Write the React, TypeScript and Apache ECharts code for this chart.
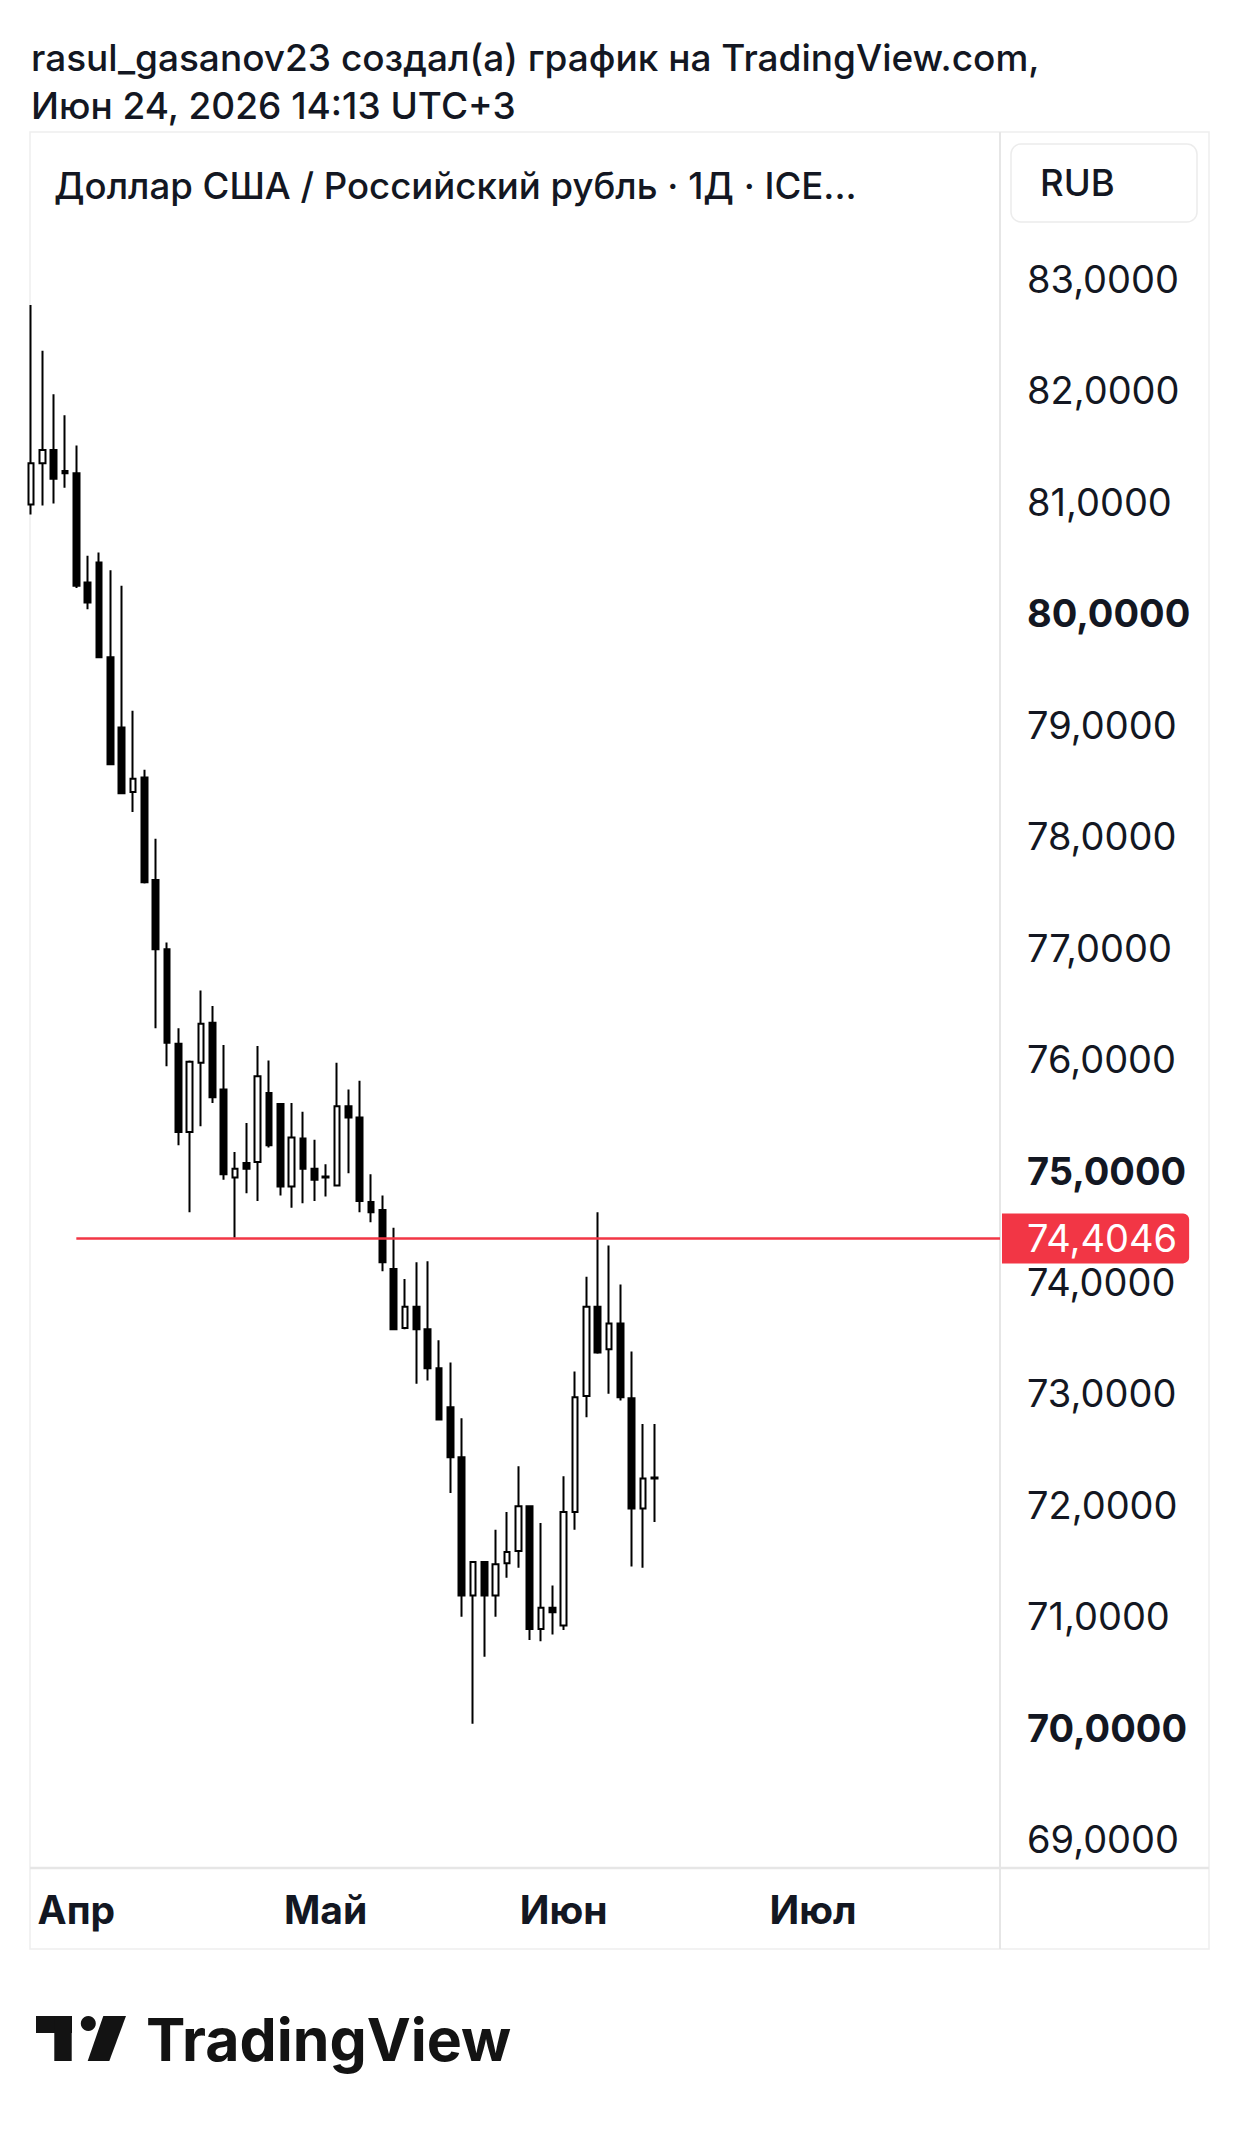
import React, { useEffect, useRef } from 'react';
import * as echarts from 'echarts';

// ---- data ----
const opens = [
  80.99, 81.36, 81.48, 81.29, 81.27, 80.29, 80.47, 79.62, 78.99, 78.41,
  78.54, 77.62, 77.0, 76.15, 75.36, 75.98, 76.34, 75.74, 74.95, 75.08,
  75.09, 75.71, 75.61, 74.87, 75.3, 75.03, 74.96, 74.88, 75.59, 75.49,
  74.73, 74.66, 74.13, 73.6, 73.79, 73.59, 73.24, 72.89, 72.44, 71.2,
  71.5, 71.2, 71.49, 71.6, 72.0, 70.9, 71.09, 70.93, 71.95, 72.99,
  73.79, 73.41, 73.64, 72.97, 71.98, 72.26,
];
const closes = [
  81.36, 81.48, 81.22, 81.27, 80.26, 80.11, 79.62, 78.66, 78.4, 78.53,
  77.6, 77.0, 76.16, 75.36, 75.99, 76.33, 75.67, 74.98, 75.03, 75.03,
  75.86, 75.24, 74.87, 75.31, 75.03, 74.93, 74.95, 75.59, 75.49, 74.74,
  74.64, 74.19, 73.59, 73.79, 73.59, 73.24, 72.78, 72.44, 71.2, 71.5,
  71.2, 71.48, 71.59, 72.0, 70.9, 71.09, 71.05, 71.95, 72.98, 73.79,
  73.38, 73.64, 72.98, 71.98, 72.25, 72.25,
];
const lows = [
  80.9, 80.98, 81.0, 81.14, 80.24, 80.05, 79.61, 78.65, 78.39, 78.23,
  77.59, 76.29, 75.95, 75.24, 74.64, 75.41, 75.62, 74.93, 74.41, 74.81,
  74.74, 75.22, 74.79, 74.68, 74.72, 74.74, 74.78, 74.87, 74.99, 74.64,
  74.55, 74.11, 73.58, 73.59, 73.1, 73.13, 72.77, 72.12, 71.01, 70.05,
  70.65, 71.01, 71.36, 71.45, 70.8, 70.79, 70.85, 70.89, 71.79, 72.8,
  73.37, 73.01, 72.95, 71.46, 71.45, 71.86,
];
const highs = [
  82.78, 82.37, 81.98, 81.79, 81.52, 80.53, 80.56, 80.4, 80.26, 79.14,
  78.61, 77.99, 77.06, 76.29, 76.0, 76.63, 76.49, 76.14, 75.18, 75.44,
  76.13, 76.0, 75.62, 75.62, 75.54, 75.29, 75.07, 75.98, 75.74, 75.82,
  74.98, 74.79, 74.5, 74.04, 74.19, 74.2, 73.49, 73.29, 72.79, 71.51,
  71.51, 71.79, 71.95, 72.36, 72.01, 71.85, 71.29, 72.27, 73.21, 74.06,
  74.64, 74.34, 73.99, 73.39, 72.74, 72.74,
];
const priceTicks = [69, 70, 71, 72, 73, 74, 75, 76, 77, 78, 79, 80, 81, 82, 83];
const boldTicks = [70, 75, 80];
const lastPrice = 74.4046;
const lineStartIndex = 4;
const firstDate = '2026-03-26';
const futureBars = 30;
const monthNames = ['Янв', 'Фев', 'Мар', 'Апр', 'Май', 'Июн', 'Июл', 'Авг', 'Сен', 'Окт', 'Ноя', 'Дек'];
const headerLine1 = 'rasul_gasanov23 создал(а) график на TradingView.com,';
const headerLine2 = 'Июн 24, 2026 14:13 UTC+3';
const titleText = 'Доллар США / Российский рубль · 1Д · ICE...';
const currencyText = 'RUB';
const brandText = 'TradingView';

function tradingDays(start: string, count: number): string[] {
  const out: string[] = [];
  const d = new Date(start + 'T00:00:00Z');
  while (out.length < count) {
    const wd = d.getUTCDay();
    if (wd !== 0 && wd !== 6) out.push(d.toISOString().slice(0, 10));
    d.setUTCDate(d.getUTCDate() + 1);
  }
  return out;
}

const FONT = 'Inter, "Noto Sans", sans-serif';
const TEXT = '#131722';
const FRAME = '#e6e6e6';
const RED = '#f23645';

export default function App() {
  const ref = useRef<HTMLDivElement>(null);
  useEffect(() => {
    if (!ref.current) return;
    const chart = echarts.init(ref.current, null, { renderer: 'svg' });

    const dates = tradingDays(firstDate, opens.length + futureBars);
    const monthLabel: Record<number, string> = {};
    dates.forEach((d, i) => {
      if (i > 0 && d.slice(5, 7) !== dates[i - 1].slice(5, 7)) {
        monthLabel[i] = monthNames[parseInt(d.slice(5, 7), 10) - 1];
      }
    });
    const candles = opens.map((o, i) => [o, closes[i], lows[i], highs[i]]);

    const gridLeft = 25.33;
    const gridRightX = 1000;
    const gridTop = 132;
    const gridBottomY = 1868;
    const yMax = 84.3325;
    const yMin = 68.7548;

    const fmt = (v: number) => v.toFixed(4).replace('.', ',');

    chart.setOption({
      animation: false,
      backgroundColor: '#ffffff',
      grid: {
        left: gridLeft,
        top: gridTop,
        width: gridRightX - gridLeft,
        height: gridBottomY - gridTop,
        containLabel: false,
        outerBoundsMode: 'none',
      },
      xAxis: {
        type: 'category',
        data: dates,
        boundaryGap: true,
        axisLine: { show: false },
        axisTick: { show: false },
        splitLine: { show: false },
        axisLabel: {
          interval: (i: number) => monthLabel[i] !== undefined,
          formatter: (_v: string, i: number) => monthLabel[i] || '',
          fontFamily: FONT,
          fontSize: 39,
          fontWeight: 700,
          color: TEXT,
          margin: 41,
          verticalAlign: 'middle',
          hideOverlap: false,
        },
      },
      yAxis: {
        type: 'value',
        position: 'right',
        min: yMin,
        max: yMax,
        axisLine: { show: false },
        axisTick: { show: false },
        splitLine: { show: false },
        axisLabel: {
          customValues: priceTicks,
          showMinLabel: true,
          showMaxLabel: true,
          align: 'left',
          margin: 27,
          padding: [0, 0, 3, 0],
          fontFamily: FONT,
          fontSize: 38,
          color: TEXT,
          formatter: (v: number) =>
            boldTicks.indexOf(Math.round(v)) >= 0 ? `{b|${fmt(v)}}` : `{n|${fmt(v)}}`,
          rich: {
            n: { fontFamily: FONT, fontSize: 38, fontWeight: 400, color: TEXT },
            b: { fontFamily: FONT, fontSize: 38, fontWeight: 700, color: TEXT },
          },
        },
      },
      series: [
        {
          type: 'candlestick',
          data: candles,
          barWidth: 6.3,
          itemStyle: {
            color: '#ffffff',
            color0: '#000000',
            borderColor: '#000000',
            borderColor0: '#000000',
            borderWidth: 2,
          },
          markLine: {
            silent: true,
            animation: false,
            symbol: ['none', 'none'],
            lineStyle: { color: RED, width: 2.5, type: 'solid' },
            label: {
              show: true,
              position: 'end',
              distance: 2,
              formatter: () => fmt(lastPrice),
              fontFamily: FONT,
              fontSize: 38,
              color: '#ffffff',
              backgroundColor: RED,
              padding: [5, 12, 5, 25],
              lineHeight: 40,
              borderRadius: [0, 6, 6, 0],
            },
            data: [
              [
                { xAxis: lineStartIndex, yAxis: lastPrice },
                { xAxis: dates.length - 1, yAxis: lastPrice, x: gridRightX },
              ],
            ],
          },
        },
      ],
      graphic: [
        // frame
        { type: 'rect', shape: { x: 30, y: 132, width: 1179, height: 1817 }, style: { fill: 'none', stroke: '#eeeeee', lineWidth: 1.5 }, silent: true },
        { type: 'line', shape: { x1: 1000, y1: 132, x2: 1000, y2: 1949 }, style: { stroke: FRAME, lineWidth: 2 }, silent: true },
        { type: 'line', shape: { x1: 30, y1: 1868, x2: 1209, y2: 1868 }, style: { stroke: FRAME, lineWidth: 2.5 }, silent: true },
        // currency box
        { type: 'rect', shape: { x: 1011, y: 144, width: 186, height: 78, r: 10 }, style: { fill: '#ffffff', stroke: '#ececec', lineWidth: 1.5 }, silent: true },
        { type: 'text', x: 1040, y: 183, style: { text: currencyText, fontFamily: FONT, fontSize: 36.5, fontWeight: 500, fill: TEXT, textAlign: 'left', textVerticalAlign: 'middle' }, silent: true },
        // header
        { type: 'text', x: 31, y: 57, style: { text: headerLine1, fontFamily: FONT, fontSize: 37, fontWeight: 500, fill: TEXT, textAlign: 'left', textVerticalAlign: 'middle' }, silent: true },
        { type: 'text', x: 31, y: 105, style: { text: headerLine2, fontFamily: FONT, fontSize: 37, fontWeight: 500, fill: TEXT, textAlign: 'left', textVerticalAlign: 'middle' }, silent: true },
        { type: 'text', x: 54, y: 186, style: { text: titleText, fontFamily: FONT, fontSize: 36.6, fontWeight: 500, fill: TEXT, textAlign: 'left', textVerticalAlign: 'middle' }, silent: true },
        // logo
        { type: 'rect', shape: { x: 36, y: 2016, width: 36, height: 17 }, style: { fill: '#131313' }, silent: true },
        { type: 'rect', shape: { x: 54.3, y: 2016, width: 17.4, height: 45 }, style: { fill: '#131313' }, silent: true },
        { type: 'circle', shape: { cx: 88.3, cy: 2023.5, r: 7.5 }, style: { fill: '#131313' }, silent: true },
        { type: 'polygon', shape: { points: [[103.3, 2016], [126, 2016], [109.3, 2061], [87.7, 2061]] }, style: { fill: '#131313' }, silent: true },
        { type: 'text', x: 146, y: 2039, style: { text: brandText, fontFamily: FONT, fontSize: 59, fontWeight: 700, fill: '#131313', textAlign: 'left', textVerticalAlign: 'middle' }, silent: true },
      ],
    });
    return () => chart.dispose();
  }, []);
  return (
    <div
      ref={ref}
      style={{ position: 'absolute', left: 0, top: 0, width: 1239, height: 2130, background: '#fff' }}
    />
  );
}
